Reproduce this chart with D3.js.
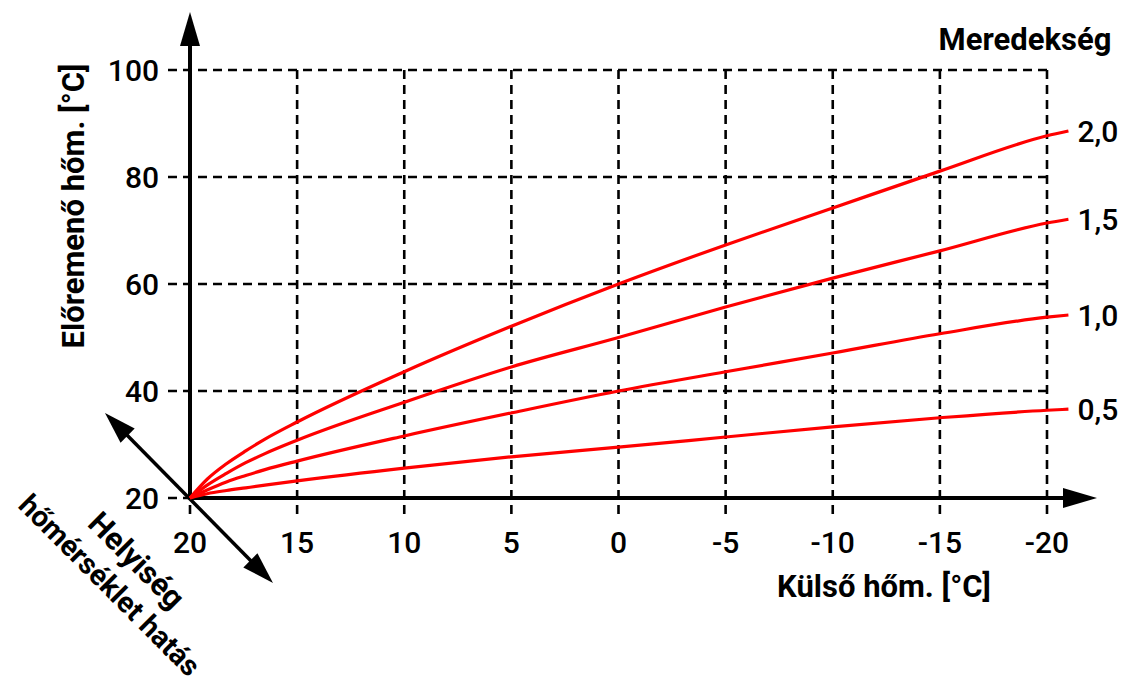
<!DOCTYPE html>
<html>
<head>
<meta charset="utf-8">
<script src="https://cdn.jsdelivr.net/npm/d3@7"></script>
<style>
  html, body { margin: 0; padding: 0; background: #fff; }
  svg { display: block; font-family: Roboto, "Liberation Sans", sans-serif; }
</style>
</head>
<body>
<svg id="chart" width="1125" height="686"></svg>
<script>
'use strict';

// outside temperature samples (°C) and flow temperature per slope
const outside = [20, 19.2, 18.3, 17.4, 16.5, 15, 10, 5, 0, -5, -10, -15, -20, -21];
const slope20 = [20, 23.5, 26.4, 28.8, 31.0, 34.2, 43.6, 52.1, 60, 67.3, 74.2, 81.1, 87.7, 88.6];
const slope15 = [20, 22.4, 24.6, 26.6, 28.3, 30.8, 37.9, 44.5, 50, 55.7, 61.1, 66.2, 71.4, 72.1];
const slope10 = [20, 21.5, 23.0, 24.2, 25.3, 26.9, 31.6, 35.9, 40, 43.6, 47.1, 50.7, 53.8, 54.2];
const slope05 = [20, 20.8, 21.4, 21.9, 22.4, 23.2, 25.6, 27.7, 29.5, 31.4, 33.3, 35.0, 36.4, 36.6];
const seriesLabels = ["2,0", "1,5", "1,0", "0,5"];

const xTicks = [20, 15, 10, 5, 0, -5, -10, -15, -20];
const yTicks = [20, 40, 60, 80, 100];

const svg = d3.select("#chart");

const x = d3.scaleLinear().domain([20, -20]).range([190, 1047]);
const y = d3.scaleLinear().domain([20, 100]).range([498, 70]);

const x0 = x(20), y0 = y(20);

// grid
const grid = svg.append("g")
	.attr("stroke", "#000")
	.attr("stroke-width", 2.6)
	.attr("stroke-dasharray", "9,6");

grid.selectAll("line.h")
	.data(yTicks)
	.join("line")
	.attr("class", "h")
	.attr("x1", x0 - 22).attr("x2", x(-20))
	.attr("y1", d => y(d)).attr("y2", d => y(d));

grid.selectAll("line.v")
	.data(xTicks)
	.join("line")
	.attr("class", "v")
	.attr("y1", y(100)).attr("y2", y0 + 20)
	.attr("x1", d => x(d)).attr("x2", d => x(d));

// arrowhead helper
const arrowHead = (tip, angle, len = 34, half = 10) => {
	const ca = Math.cos(angle), sa = Math.sin(angle);
	const bx = tip[0] - ca * len, by = tip[1] - sa * len;
	return [tip, [bx - sa * half, by + ca * half], [bx + sa * half, by - ca * half]];
};

const axes = svg.append("g");

axes.append("line")
	.attr("x1", x0).attr("y1", y0).attr("x2", x0).attr("y2", 40)
	.attr("stroke", "#000").attr("stroke-width", 4);
axes.append("line")
	.attr("x1", x0).attr("y1", y0).attr("x2", 1070).attr("y2", y0)
	.attr("stroke", "#000").attr("stroke-width", 4);

// diagonal room-temperature arrow
const dTop = [105, 413], dBot = [273, 583];
axes.append("line")
	.attr("x1", dTop[0] + 18).attr("y1", dTop[1] + 18)
	.attr("x2", dBot[0] - 18).attr("y2", dBot[1] - 18)
	.attr("stroke", "#000").attr("stroke-width", 3.5);

const heads = [
	arrowHead([x0, 12], -Math.PI / 2),
	arrowHead([1097, y0], 0),
	arrowHead(dTop, -3 * Math.PI / 4, 32, 10),
	arrowHead(dBot, Math.PI / 4, 32, 10)
];
axes.selectAll("polygon")
	.data(heads)
	.join("polygon")
	.attr("points", d => d.map(p => p.join(",")).join(" "))
	.attr("fill", "#000");

// curves
const seriesValues = [slope20, slope15, slope10, slope05];
const line = d3.line()
	.x(d => x(d[0]))
	.y(d => y(d[1]))
	.curve(d3.curveMonotoneX);

svg.append("g")
	.selectAll("path")
	.data(seriesValues)
	.join("path")
	.attr("d", vals => line(outside.map((t, i) => [t, vals[i]])))
	.attr("fill", "none")
	.attr("stroke", "#ff0000")
	.attr("stroke-width", 3.2);

// curve labels
svg.append("g")
	.selectAll("text")
	.data(seriesValues)
	.join("text")
	.attr("x", x(outside[outside.length - 1]) + 9)
	.attr("y", vals => y(vals[vals.length - 1]))
	.attr("dy", "0.36em")
	.attr("font-size", 30)
	.attr("font-weight", 500)
	.text((vals, i) => seriesLabels[i]);

// tick labels
svg.append("g")
	.selectAll("text")
	.data(xTicks)
	.join("text")
	.attr("x", d => x(d))
	.attr("y", 553)
	.attr("text-anchor", "middle")
	.attr("font-size", 30)
	.attr("font-weight", 500)
	.text(d => d);

svg.append("g")
	.selectAll("text")
	.data(yTicks)
	.join("text")
	.attr("x", 159)
	.attr("y", d => y(d))
	.attr("dy", "0.36em")
	.attr("text-anchor", "end")
	.attr("font-size", 30)
	.attr("font-weight", 500)
	.text(d => d);

// titles
const bold = sel => sel.attr("font-weight", "bold").attr("font-size", 31);

svg.append("text")
	.call(bold)
	.attr("transform", "translate(84,206) rotate(-90)")
	.attr("text-anchor", "middle")
	.text("Előremenő hőm. [°C]");

svg.append("text")
	.call(bold)
	.attr("x", 884).attr("y", 597)
	.attr("text-anchor", "middle")
	.text("Külső hőm. [°C]");

svg.append("text")
	.call(bold)
	.attr("x", 1025).attr("y", 50)
	.attr("text-anchor", "middle")
	.text("Meredekség");

svg.append("text")
	.call(bold)
	.attr("transform", "translate(137,560) rotate(45)")
	.attr("text-anchor", "middle")
	.attr("dy", "0.36em")
	.text("Helyiség");

svg.append("text")
	.call(bold)
	.attr("font-size", 29)
	.attr("transform", "translate(110,585) rotate(45)")
	.attr("text-anchor", "middle")
	.attr("dy", "0.36em")
	.text("hőmérséklet hatás");
</script>
</body>
</html>
